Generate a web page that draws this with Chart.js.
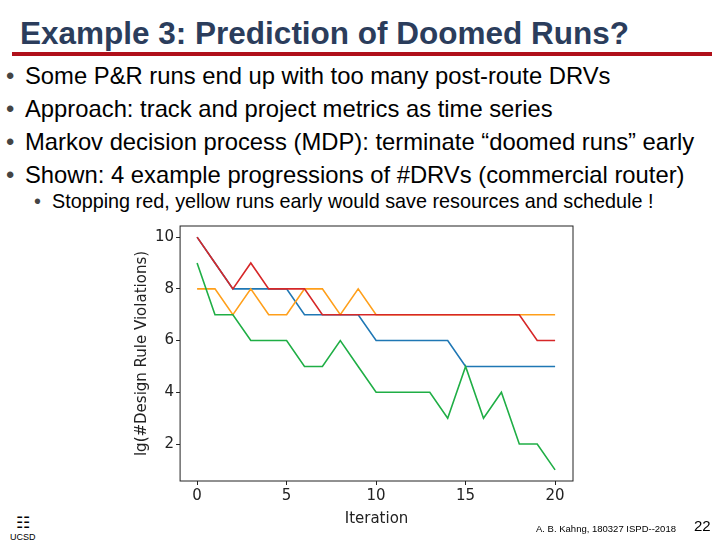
<!DOCTYPE html>
<html>
<head>
<meta charset="utf-8">
<script src="https://cdn.jsdelivr.net/npm/chart.js@4"></script>
<style>
  body { margin: 0; width: 720px; height: 540px; background: #fff; position: relative; overflow: hidden; font-family: "Liberation Sans", Arial, sans-serif; }
  #title { position: absolute; left: 20px; top: 15px; font-size: 31.5px; font-weight: bold; color: #2b3d5c; white-space: nowrap; }
  #rule { position: absolute; left: 12px; top: 52px; width: 700px; height: 4px; background: #b0101a; }
  ul { position: absolute; margin: 0; padding: 0; list-style: none; white-space: nowrap; }
  #bullets { left: 6px; top: 59px; font-size: 23.8px; line-height: 33px; color: #000; }
  #bullets li::before, #sub li::before { content: "•"; color: #444; display: inline-block; width: 19px; }
  #sub { left: 34px; top: 190px; font-size: 19.8px; color: #000; }
  #sub li::before { width: 18px; }
  #wrap { position: absolute; left: 129px; top: 215px; width: 470px; height: 313px; }
  #logo { position: absolute; left: 10px; top: 513px; font-size: 9px; color: #000; text-align: center; }
  #cite { position: absolute; left: 536px; top: 523px; font-size: 9.5px; color: #000; }
  #page { position: absolute; left: 694px; top: 517px; font-size: 15px; color: #000; }
</style>
</head>
<body>
<div id="title">Example 3: Prediction of Doomed Runs?</div>
<div id="rule"></div>
<ul id="bullets">
  <li>Some P&amp;R runs end up with too many post-route DRVs</li>
  <li>Approach: track and project metrics as time series</li>
  <li>Markov decision process (MDP): terminate “doomed runs” early</li>
  <li>Shown: 4 example progressions of #DRVs (commercial router)</li>
</ul>
<ul id="sub"><li>Stopping red, yellow runs early would save resources and schedule !</li></ul>
<div id="wrap"><canvas id="chart"></canvas></div>
<div id="logo"><span style="font-size:16px">&#x2637;</span><br>UCSD</div>
<div id="cite">A. B. Kahng, 180327 ISPD--2018</div>
<div id="page">22</div>
<script>
const iterations = [0,1,2,3,4,5,6,7,8,9,10,11,12,13,14,15,16,17,18,19,20];
const blue_run   = [10,9,8,8,8,8,7,7,7,7,6,6,6,6,6,5,5,5,5,5,5];
const orange_run = [8,8,7,8,7,7,8,8,7,8,7,7,7,7,7,7,7,7,7,7,7];
const green_run  = [9,7,7,6,6,6,5,5,6,5,4,4,4,4,3,5,3,4,2,2,1];
const red_run    = [10,9,8,9,8,8,8,7,7,7,7,7,7,7,7,7,7,7,7,6,6];
const x_ticks = [0,5,10,15,20];
const y_ticks = [2,4,6,8,10];

function series(values, color) {
  return {
    data: values.map(function (v, i) { return { x: iterations[i], y: v }; }),
    borderColor: color,
    borderWidth: 1.6,
    pointRadius: 0,
    tension: 0,
  };
}

const frame = {
  id: "frame",
  afterDraw: function (chart) {
    const a = chart.chartArea;
    const ctx = chart.ctx;
    ctx.save();
    ctx.strokeStyle = "#222";
    ctx.lineWidth = 1;
    ctx.strokeRect(a.left, a.top, a.right - a.left, a.bottom - a.top);
    ctx.restore();
  },
};

const tickFont = { family: "DejaVu Sans", size: 15 };
const tickGrid = { display: true, drawOnChartArea: false, drawTicks: true, tickLength: 4, color: "#222" };

// first dataset is painted on top, so red comes first
new Chart(document.getElementById("chart"), {
  type: "line",
  data: {
    datasets: [
      series(red_run, "#d62728"),
      series(green_run, "#1fae45"),
      series(orange_run, "#ff9f1a"),
      series(blue_run, "#1f77b4"),
    ],
  },
  options: {
    responsive: true,
    maintainAspectRatio: false,
    animation: false,
    layout: { padding: { top: 6, right: 26, bottom: 0, left: 2 } },
    plugins: { legend: { display: false }, tooltip: { enabled: false } },
    scales: {
      x: {
        type: "linear", min: -0.95, max: 21,
        afterBuildTicks: function (s) { s.ticks = x_ticks.map(function (v) { return { value: v }; }); },
        grid: tickGrid,
        border: { display: false },
        ticks: { color: "#222", font: tickFont, padding: 2 },
        title: { display: true, text: "Iteration", color: "#222", font: { family: "DejaVu Sans", size: 15 }, padding: { top: 3, bottom: 0 } },
      },
      y: {
        min: 0.57, max: 10.43,
        afterBuildTicks: function (s) { s.ticks = y_ticks.map(function (v) { return { value: v }; }); },
        grid: tickGrid,
        border: { display: false },
        ticks: { color: "#222", font: tickFont, padding: 2 },
        title: { display: true, text: "lg(#Design Rule Violations)", color: "#222", font: { family: "DejaVu Sans", size: 15 }, padding: 2 },
      },
    },
  },
  plugins: [frame],
});
</script>
</body>
</html>
